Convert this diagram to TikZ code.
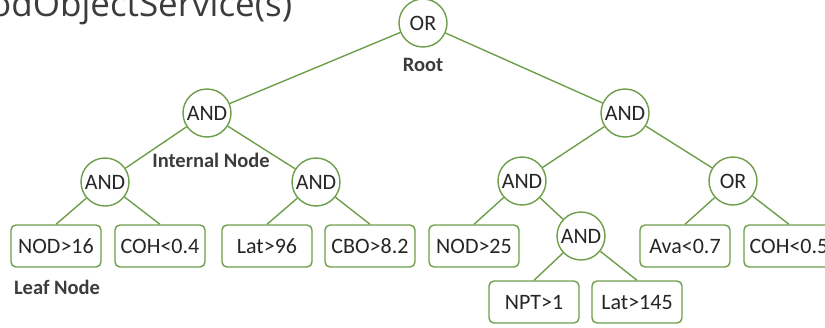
\documentclass[tikz,border=0pt]{standalone}
\usepackage{fontspec}
\setmainfont{Carlito}
\newfontfamily\titlefont{Open Sans}
\usepackage{xcolor}
\usetikzlibrary{positioning}

\definecolor{treegreen}{RGB}{110,158,74}
\definecolor{labelgray}{RGB}{60,60,60}

\begin{document}
\begin{tikzpicture}[
  x=1pt, y=-1pt,
  font=\fontsize{22}{24}\selectfont,
  % ---- node styles ----
  base/.style={draw=treegreen, line width=1.4pt, fill=white,
    align=center, inner sep=2pt, text=black!85},
  gate/.style={base, circle, minimum size=48pt},
  leaf/.style={base, rectangle, rounded corners=5pt,
    minimum width=90pt, minimum height=42pt},
  % ---- edge and label styles ----
  edge/.style={draw=treegreen, line width=1.4pt},
  lbl/.style={font=\fontsize{20.5}{22}\selectfont\bfseries,
    text=labelgray, inner sep=1pt},
]
\useasboundingbox (0,0) rectangle (825,327);

% ---- title (cut by the page edge) ----
\node[anchor=base west, inner sep=0pt, text=labelgray,
  font=\fontsize{35}{38}\titlefont] (title) at (-10,16) {odObjectService(s)};

% ---- gates ----
\node[gate] (root) at (423,23)  {OR};
\node[gate] (l1)   at (207,113) {AND};
\node[gate] (r1)   at (625,113) {AND};
\node[gate] (ll)   at (105,182) {AND};
\node[gate] (lr)   at (316,182) {AND};
\node[gate] (rl)   at (522,181) {AND};
\node[gate] (rr)   at (733,181) {OR};
\node[gate] (rlr)  at (581,236) {AND};

% ---- leaves ----
\node[leaf] (nod16)  at (56,246)  {NOD>16};
\node[leaf] (coh04)  at (160,246) {COH<0.4};
\node[leaf] (lat96)  at (267,246) {Lat>96};
\node[leaf] (cbo82)  at (370,246) {CBO>8.2};
\node[leaf] (nod25)  at (474,246) {NOD>25};
\node[leaf] (ava07)  at (685,246) {Ava<0.7};
\node[leaf] (coh05)  at (789,246) {COH<0.5};
\node[leaf] (npt1)   at (534,302) {NPT>1};
\node[leaf] (lat145) at (637,302) {Lat>145};

% ---- edges ----
\draw[edge] (root) -- (l1);
\draw[edge] (root) -- (r1);
\draw[edge] (l1) -- (ll);
\draw[edge] (l1) -- (lr);
\draw[edge] (r1) -- (rl);
\draw[edge] (r1) -- (rr);
\draw[edge] (ll) -- (nod16.north);
\draw[edge] (ll) -- (coh04.north);
\draw[edge] (lr) -- (lat96.north);
\draw[edge] (lr) -- (cbo82.north);
\draw[edge] (rl) -- (nod25.north);
\draw[edge] (rl) -- (rlr);
\draw[edge] (rlr) -- (npt1.north);
\draw[edge] (rlr) -- (lat145.north);
\draw[edge] (rr) -- (ava07.north);
\draw[edge] (rr) -- (coh05.north);

% ---- annotations ----
\node[lbl] (rootlbl) at (423,65)  {Root};
\node[lbl] (intlbl)  at (211,160) {Internal Node};
\node[lbl] (leaflbl) at (57,287)  {Leaf Node};
\end{tikzpicture}
\end{document}
